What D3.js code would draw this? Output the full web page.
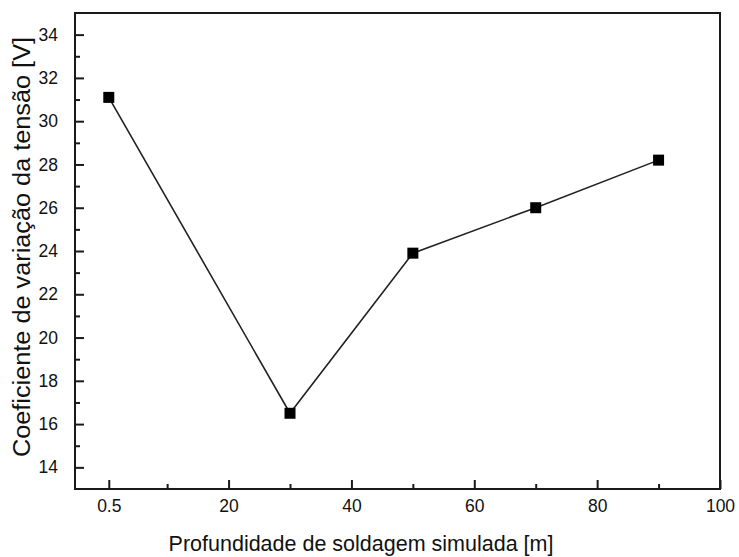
<!DOCTYPE html>
<html>
<head>
<meta charset="utf-8">
<script src="https://cdn.jsdelivr.net/npm/d3@7/dist/d3.min.js"></script>
<style>
  html, body { margin: 0; padding: 0; background: #fff; }
  svg { display: block; font-family: "Liberation Sans", Arial, sans-serif; }
</style>
</head>
<body>
<svg id="chart" width="739" height="557"></svg>
<script>
// Simulated welding depth [m] and voltage variation coefficient
const depths = [0.5, 30, 50, 70, 90];
const coefficients = [31.1, 16.5, 23.9, 26.0, 28.2];

const xMajorTicks = [0.5, 20, 40, 60, 80, 100];
const xTickLabels = ["0.5", "20", "40", "60", "80", "100"];
const xMinorTicks = [10, 30, 50, 70, 90];
const yMajorTicks = [14, 16, 18, 20, 22, 24, 26, 28, 30, 32, 34];
const yMinorTicks = [15, 17, 19, 21, 23, 25, 27, 29, 31, 33];

const xTitle = "Profundidade de soldagem simulada [m]";
const yTitle = "Coeficiente de variação da tensão [V]";

const svg = d3.select("#chart");
const margin = { left: 75, right: 19, top: 13, bottom: 68 };
const W = 739, H = 557;
const x = d3.scaleLinear().domain([-5, 100]).range([margin.left, W - margin.right]);
const y = d3.scaleLinear().domain([13, 35]).range([H - margin.bottom, margin.top]);

const ink = "#1a1a1a";
const labelInk = "#111";

// Frame
svg.append("rect")
  .attr("x", x.range()[0]).attr("y", y.range()[1])
  .attr("width", x.range()[1] - x.range()[0])
  .attr("height", y.range()[0] - y.range()[1])
  .attr("fill", "none").attr("stroke", ink).attr("stroke-width", 2);

// Bottom axis with inward ticks
const xAxis = svg.append("g").attr("transform", `translate(0,${y.range()[0]})`)
  .call(d3.axisBottom(x).tickValues(xMajorTicks).tickSizeInner(-9).tickSizeOuter(0)
    .tickPadding(11).tickFormat((d, i) => xTickLabels[i]));
xAxis.select(".domain").remove();
xAxis.selectAll(".tick line").attr("stroke", ink).attr("stroke-width", 2);
xAxis.selectAll(".tick text").attr("font-size", 17.5).attr("fill", labelInk)
  .attr("font-family", "Liberation Sans, Arial, sans-serif");

const xMinor = svg.append("g").attr("transform", `translate(0,${y.range()[0]})`)
  .call(d3.axisBottom(x).tickValues(xMinorTicks).tickSizeInner(-5).tickSizeOuter(0).tickFormat(""));
xMinor.select(".domain").remove();
xMinor.selectAll(".tick line").attr("stroke", ink).attr("stroke-width", 2);

// Left axis with inward ticks
const yAxis = svg.append("g").attr("transform", `translate(${x.range()[0]},0)`)
  .call(d3.axisLeft(y).tickValues(yMajorTicks).tickSizeInner(-9).tickSizeOuter(0)
    .tickPadding(17).tickFormat(d3.format("d")));
yAxis.select(".domain").remove();
yAxis.selectAll(".tick line").attr("stroke", ink).attr("stroke-width", 2);
yAxis.selectAll(".tick text").attr("font-size", 17.5).attr("fill", labelInk)
  .attr("font-family", "Liberation Sans, Arial, sans-serif");

const yMinor = svg.append("g").attr("transform", `translate(${x.range()[0]},0)`)
  .call(d3.axisLeft(y).tickValues(yMinorTicks).tickSizeInner(-5).tickSizeOuter(0).tickFormat(""));
yMinor.select(".domain").remove();
yMinor.selectAll(".tick line").attr("stroke", ink).attr("stroke-width", 2);

// Data line
const pts = depths.map((d, i) => [d, coefficients[i]]);
svg.append("path")
  .datum(pts)
  .attr("fill", "none").attr("stroke", "#222").attr("stroke-width", 1.6)
  .attr("d", d3.line().x(d => x(d[0])).y(d => y(d[1])));

// Square markers
const s = 11;
svg.append("g").selectAll("rect").data(pts).join("rect")
  .attr("x", d => x(d[0]) - s / 2).attr("y", d => y(d[1]) - s / 2)
  .attr("width", s).attr("height", s).attr("fill", "#000");

// Axis titles
svg.append("text")
  .attr("x", 361).attr("y", 551)
  .attr("text-anchor", "middle").attr("font-size", 21.5).attr("fill", "#111")
  .text(xTitle);

svg.append("text")
  .attr("transform", `translate(30,247) rotate(-90)`)
  .attr("text-anchor", "middle").attr("font-size", 23).attr("fill", "#111")
  .attr("textLength", 420).attr("lengthAdjust", "spacingAndGlyphs")
  .text(yTitle);
</script>
</body>
</html>
